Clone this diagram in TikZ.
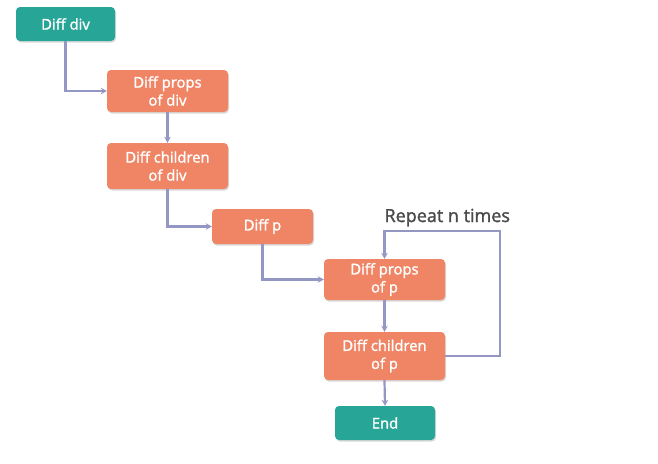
\documentclass[tikz,border=0pt]{standalone}
\usepackage{fontspec}
\setmainfont{Open Sans}
\newfontfamily\semib{Open Sans}[FakeBold=1.6]
\usetikzlibrary{arrows.meta,shadows}
\definecolor{teal1}{HTML}{27A697}
\definecolor{orange1}{HTML}{F08566}
\definecolor{line1}{HTML}{9497C3}
\definecolor{txt1}{HTML}{4A4A4A}
\begin{document}
\begin{tikzpicture}[x=1pt,y=-1pt,
  box/.style={rounded corners=4pt, text=white, align=center,
    font=\fontsize{14.8}{18}\semib, inner sep=0pt,
    drop shadow={shadow xshift=1pt, shadow yshift=-1.5pt, opacity=0.25, fill=black!60}},
  tealbox/.style={box, fill=teal1},
  orangebox/.style={box, fill=orange1},
  conn/.style={draw=line1, line width=2.2pt, -{Stealth[length=6pt,width=6.5pt]}}]
\useasboundingbox (0,0) rectangle (658,463);
\node[tealbox, minimum width=99pt, minimum height=34pt] (a) at (65.5,24) {Diff div};
\node[orangebox, minimum width=121pt, minimum height=42pt] (b) at (167.5,91) {Diff props\\of div};
\node[orangebox, minimum width=121pt, minimum height=46pt] (c) at (167.5,166) {Diff children\\of div};
\node[orangebox, minimum width=101pt, minimum height=35pt] (d) at (262.5,226.5) {Diff p};
\node[orangebox, minimum width=121pt, minimum height=41pt] (e) at (384.5,279.5) {Diff props\\of p};
\node[orangebox, minimum width=121pt, minimum height=48pt] (f) at (384.5,356) {Diff children\\of p};
\node[tealbox, minimum width=100pt, minimum height=34pt] (g) at (385,423) {End};
\node[text=txt1, font=\fontsize{18}{22}\semib, anchor=base west] (r) at (381,222) {Repeat n times};
\coordinate (loopR) at (500,356);
\coordinate (loopT) at (500,231);
\draw[conn] (a.south) |- (b.west);
\draw[conn] (b.south) -- (c.north);
\draw[conn] (c.south) |- (d.west);
\draw[conn] (d.south) |- (e.west);
\draw[conn] (e.south) -- (f.north);
\draw[conn] (f.south) -- (g.north);
\draw[conn] (f.east) -- (loopR) -- (loopT) -| (e.north);
\end{tikzpicture}
\end{document}
